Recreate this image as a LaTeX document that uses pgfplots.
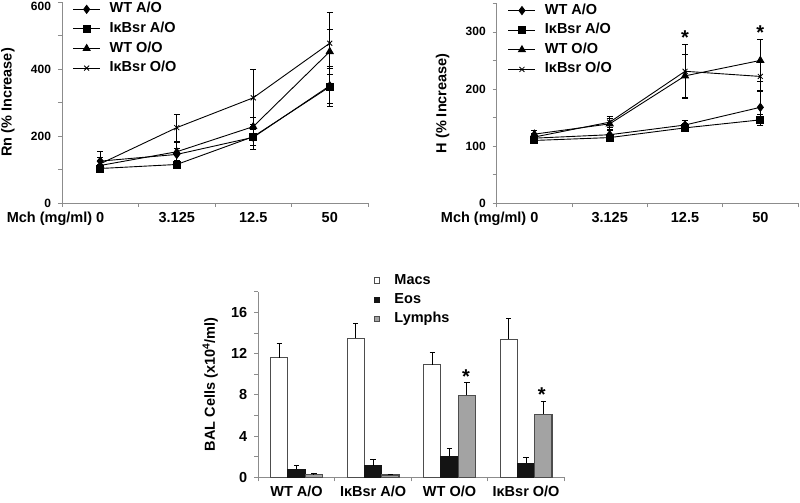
\documentclass[border=0pt]{standalone}
\usepackage{pgfplots}
\pgfplotsset{compat=1.18}
\usepackage{fontspec}
\setmainfont{Liberation Sans}
\newcommand\fA{\bfseries\fontsize{14.5bp}{16bp}\selectfont}
\newcommand\fB{\bfseries\fontsize{12bp}{14bp}\selectfont}
\newcommand\fC{\bfseries\fontsize{20bp}{22bp}\selectfont}
\definecolor{axgray}{HTML}{8C8C8C}
\definecolor{edge}{HTML}{4D4D4D}
\definecolor{lymph}{HTML}{A3A3A3}
\definecolor{eos}{HTML}{141414}
\pgfplotsset{
  base/.style={
    scale only axis,
    axis x line*=bottom, axis y line*=left,
    axis line style={draw=axgray, line width=0.7bp},
    tick style={draw=axgray, line width=0.7bp},
    tick align=outside,
    major tick length=4bp, minor tick length=4bp,
    /pgf/number format/assume math mode=true,
    yticklabel style={font=\fB, xshift=-3.5bp},
    xticklabel style={font=\fA},
    clip=false,
    xmin=0, xmax=4,
    xtick={0,1,2,3,4}, xticklabels={,,,,},
    extra x ticks={0.5,1.5,2.5,3.5},
    extra x tick style={major tick length=0pt, xticklabel style={yshift=-5.5bp}},
  },
  ylab/.style={every axis y label/.style={at={([xshift=-#1]rel axis cs:0,0.5)}, rotate=90, anchor=center, font=\fA}},
  lin/.style={black, line width=0.9bp, error bars/y dir=both, error bars/y explicit,
     error bars/error bar style={black, line width=0.8bp},
     error bars/error mark options={rotate=90, black, mark size=3bp, line width=0.8bp}},
  barerr/.style={error bars/y dir=plus, error bars/y explicit,
     error bars/error bar style={black, line width=0.8bp},
     error bars/error mark options={rotate=90, black, mark size=2.7bp, line width=0.8bp}},
  legA/.style={legend style={at={(axis description cs:#1)}, draw=none, fill=none, inner sep=0pt, outer sep=0pt,
     anchor=north west, row sep=6.6bp, column sep=9bp,
     nodes={inner sep=0pt, text height=10bp, text depth=3bp, font=\fA}},
     legend cell align=left,
     legend image code/.code={\draw[mark repeat=2,mark phase=2,##1] plot coordinates {(0bp,0bp) (13.5bp,0bp) (27bp,0bp)};}},
}
\begin{document}
\begin{tikzpicture}
\path[use as bounding box] (0,0) rectangle (800bp,503bp);
% ---------- top left ----------
\begin{axis}[base, at={(62bp,300bp)}, anchor=south west, width=306bp, height=201bp,
  ymin=0, ymax=600, ytick={0,200,400,600}, yticklabels={0,200,400,\raisebox{-8.3bp}[0pt][0pt]{600}}, minor ytick={100,300,500},
  extra x tick labels={\llap{Mch (mg/ml) }0,3.125,12.5,50},
  ylab=54bp, ylabel={Rn (\% Increase)}, legA={0.035,0.996}]
\addplot+[lin, mark=diamond*, mark size=4bp, mark options={fill=black, draw=black}] coordinates {
 (0.5,125) +- (0,30) (1.5,145) +- (0,18) (2.5,196) +- (0,25) (3.5,350) +- (0,52)};
\addlegendentry{WT A/O}
\addplot+[lin, mark=square*, mark size=3.5bp, mark options={fill=black, draw=black}] coordinates {
 (0.5,103) +- (0,12) (1.5,115) +- (0,12) (2.5,198) +- (0,37) (3.5,347) +- (0,60)};
\addlegendentry{IκBsr A/O}
\addplot+[lin, mark=triangle*, mark size=4bp, mark options={fill=black, draw=black}] coordinates {
 (0.5,112) +- (0,15) (1.5,153) +- (0,27) (2.5,228) +- (0,28) (3.5,452) +- (0,67)};
\addlegendentry{WT O/O}
\addplot+[lin, mark=x, mark size=3.5bp, mark options={draw=black, line width=0.8bp}] coordinates {
 (0.5,117) +- (0,20) (1.5,225) +- (0,40) (2.5,314) +- (0,85) (3.5,477) +- (0,92)};
\addlegendentry{IκBsr O/O}
\end{axis}
% ---------- top right ----------
\begin{axis}[base, at={(496.7bp,299.7bp)}, anchor=south west, width=301.3bp, height=200bp,
  ymin=0, ymax=350, ytick={0,100,200,300}, yticklabels={0,100,200,300}, minor ytick={50,150,250,350},
  extra x tick labels={\llap{Mch (mg/ml) }0,3.125,12.5,50},
  ylab=54bp, ylabel={H (\% Increase)}, legA={0.0375,0.996}]
\addplot+[lin, mark=diamond*, mark size=4bp, mark options={fill=black, draw=black}] coordinates {
 (0.5,114) +- (0,6) (1.5,120) +- (0,8) (2.5,137) +- (0,8) (3.5,168) +- (0,28)};
\addlegendentry{WT A/O}
\addplot+[lin, mark=square*, mark size=3.5bp, mark options={fill=black, draw=black}] coordinates {
 (0.5,110) +- (0,5) (1.5,115) +- (0,5) (2.5,132) +- (0,7) (3.5,146) +- (0,10)};
\addlegendentry{IκBsr A/O}
\addplot+[lin, mark=triangle*, mark size=4bp, mark options={fill=black, draw=black}] coordinates {
 (0.5,121) +- (0,6) (1.5,139) +- (0,10) (2.5,223) +- (0,37) (3.5,250) +- (0,37)};
\addlegendentry{WT O/O}
\addplot+[lin, mark=x, mark size=3.5bp, mark options={draw=black, line width=0.8bp}] coordinates {
 (0.5,116) +- (0,6) (1.5,142) +- (0,10) (2.5,231) +- (0,47) (3.5,222) +- (0,24)};
\addlegendentry{IκBsr O/O}
\node[font=\fC, anchor=base] at (axis cs:2.5,278) {*};
\node[font=\fC, anchor=base] at (axis cs:3.5,287) {*};
\end{axis}
% ---------- bottom ----------
\begin{axis}[base, at={(258.3bp,25.7bp)}, anchor=south west, width=306bp, height=185.6bp,
  ymin=0, ymax=18, ytick={0,4,8,12,16}, yticklabels={0,4,8,12,16}, minor ytick={2,6,10,14,18},
  yticklabel style={font=\fA},
  extra x tick labels={WT A/O,IκBsr A/O,WT O/O,IκBsr O/O},
  ylab=48bp, ylabel={BAL Cells (x10\textsuperscript{4}/ml)},
  ybar=0pt, bar width=17.3bp,
  legend style={at={(axis description cs:0.378,1.095)}, draw=none, fill=none, inner sep=0pt, outer sep=0pt,
     anchor=north west, row sep=6.3bp, column sep=14bp,
     nodes={inner sep=0pt, text height=10bp, text depth=3bp, font=\fA}},
  legend cell align=left,
  legend image code/.code={\draw[#1] (0bp,-2.7bp) rectangle (5.4bp,2.7bp);},
  ]
\addplot[draw=edge, fill=white, line width=1.1bp, barerr]
  coordinates {(0.5,11.6) +- (0,1.4) (1.5,13.5) +- (0,1.4) (2.5,10.9) +- (0,1.2) (3.5,13.4) +- (0,2.0)};
\addlegendentry{Macs}
\addplot[draw=eos, fill=eos, line width=1.1bp, barerr]
  coordinates {(0.5,0.77) +- (0,0.4) (1.5,1.12) +- (0,0.62) (2.5,2.03) +- (0,0.77) (3.5,1.36) +- (0,0.58)};
\addlegendentry{Eos}
\addplot[draw=edge, fill=lymph, line width=1.1bp, barerr]
  coordinates {(0.5,0.25) +- (0,0.17) (1.5,0.22) +- (0,0.1) (2.5,7.94) +- (0,1.26) (3.5,6.13) +- (0,1.19)};
\addlegendentry{Lymphs}
\node[font=\fC, anchor=base] at (axis cs:2.715,9.1) {*};
\node[font=\fC, anchor=base] at (axis cs:3.705,7.35) {*};
\end{axis}
\end{tikzpicture}
\end{document}
